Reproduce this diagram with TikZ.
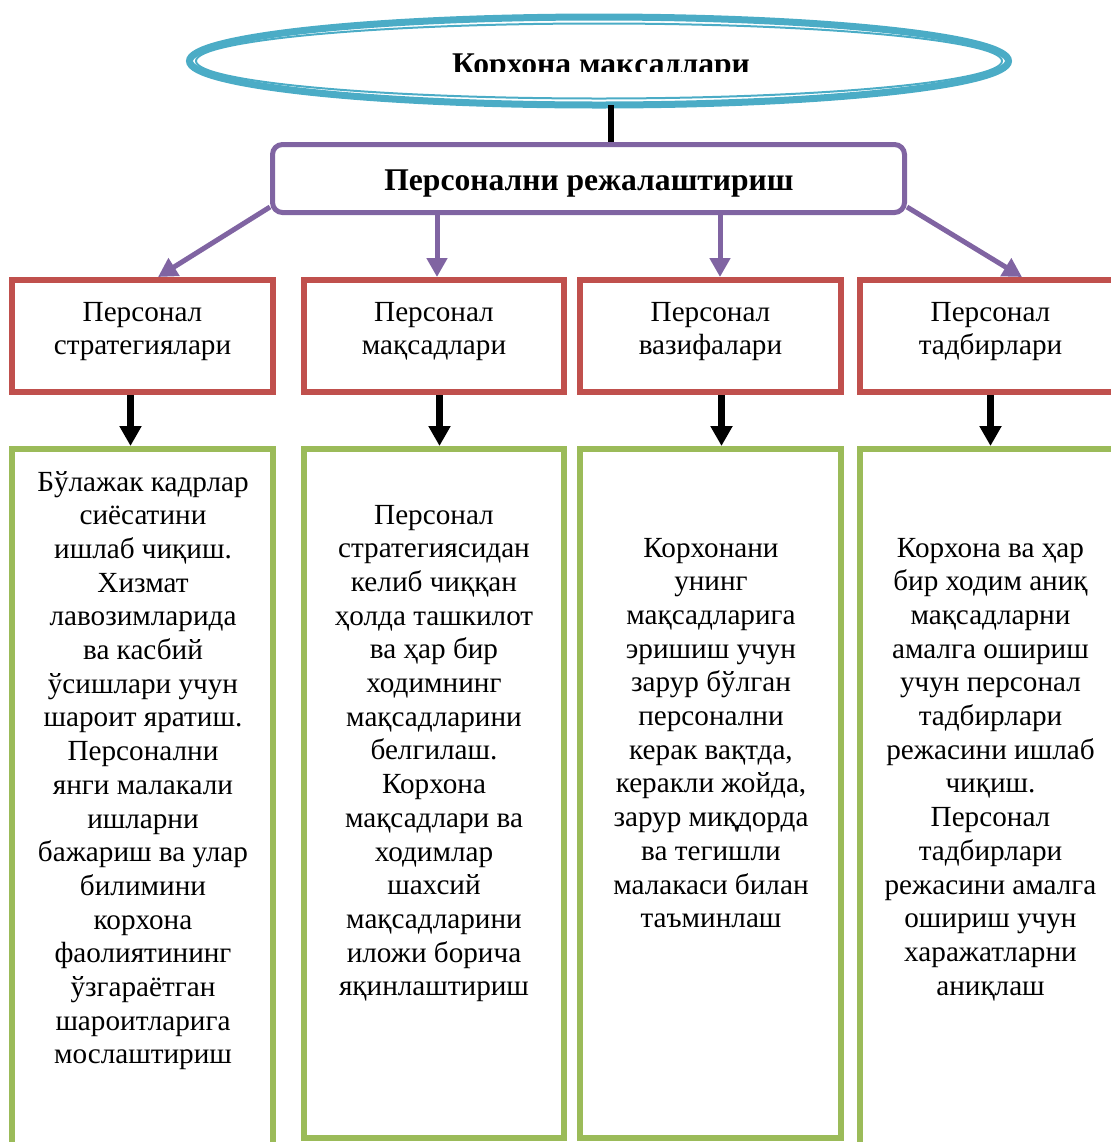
\documentclass[tikz,border=0pt]{standalone}
\usepackage{fontspec}
\setmainfont{Liberation Serif}
\usetikzlibrary{arrows.meta,shapes.geometric,calc}

\definecolor{ovalblue}{HTML}{4BACC6}
\definecolor{planpurple}{HTML}{8064A2}
\definecolor{boxred}{HTML}{C0504D}
\definecolor{boxgreen}{HTML}{9BBB59}

% centred block of lines; the node's base is the first baseline
\newcommand{\blocktext}[2]{\parbox[t]{#1}{\centering\fontsize{14.6pt}{16.85pt}\selectfont #2}}
\newcommand{\titletext}[1]{\fontsize{15.8pt}{18pt}\selectfont\bfseries #1}

\tikzset{
  goaloval/.style={ellipse, inner sep=0pt, minimum width=413pt, minimum height=47.5pt},
  ringthick/.style={draw=ovalblue, line width=3.5pt},
  ringthin/.style={draw=ovalblue, line width=1pt},
  planbox/.style={rectangle, rounded corners=5pt, draw=planpurple, line width=2.5pt,
                  inner sep=0pt, minimum width=316pt, minimum height=34pt},
  redbox/.style={rectangle, draw=boxred, line width=3pt, inner sep=0pt,
                 minimum height=56pt},
  greenbox/.style={rectangle, draw=boxgreen, line width=3pt, inner sep=0pt},
  txt/.style={anchor=base, inner sep=0pt},
  purplearrow/.style={draw=planpurple, line width=2.5pt,
                      -{Triangle[width=10pt,length=9.5pt]}},
  blackarrow/.style={draw=black, line width=3.5pt,
                     -{Triangle[width=10.5pt,length=10pt]}},
  blackline/.style={draw=black, line width=3pt}
}

\begin{document}
\begin{tikzpicture}[x=0.5pt, y=-0.5pt]
  \useasboundingbox (0,0) rectangle (1111,1142);
  \clip (0,0) rectangle (1111,1142);

  % top oval: thick outer ring with a thin inner ring
  \node[goaloval] (goal) at (599,61) {};
  \draw[ringthick] (goal.center) ellipse [x radius=204.75pt, y radius=22pt];
  \draw[ringthin]  (goal.center) ellipse [x radius=201.5pt, y radius=18.75pt];
  \begin{scope}
    \clip (0,0) rectangle (1111,71);
    \node[txt] (goaltext) at (601,74) {\titletext{Корхона мақсадлари}};
  \end{scope}

  % planning box
  \node[planbox] (plan) at (588.5,178.5) {};
  \node[txt] (plantext) at (589,190) {\titletext{Персонални режалаштириш}};

  % red headings
  \node[redbox, minimum width=130.5pt] (r1) at (142.5,336) {};
  \node[redbox, minimum width=130pt]   (r2) at (434,336) {};
  \node[redbox, minimum width=130.5pt] (r3) at (710.5,336) {};
  \node[redbox, minimum width=130.5pt] (r4) at (990.5,336) {};
  \node[txt] (r1t) at (142.5,321) {\blocktext{130pt}{Персонал\\стратегиялари}};
  \node[txt] (r2t) at (434,321)   {\blocktext{130pt}{Персонал\\мақсадлари}};
  \node[txt] (r3t) at (710.5,321) {\blocktext{130pt}{Персонал\\вазифалари}};
  \node[txt] (r4t) at (990.5,321) {\blocktext{130pt}{Персонал\\тадбирлари}};

  % green description boxes
  \node[greenbox, minimum width=130.5pt, minimum height=355.5pt] (g1) at (142.5,804.5) {};
  \node[greenbox, minimum width=130pt,   minimum height=344.5pt] (g2) at (434,793.5) {};
  \node[greenbox, minimum width=130.5pt, minimum height=344.5pt] (g3) at (710.5,793.5) {};
  \node[greenbox, minimum width=130.5pt, minimum height=355.5pt] (g4) at (990.5,804.5) {};

  \node[txt] (g1t) at (143,491) {\blocktext{130pt}{Бўлажак кадрлар\\сиёсатини\\ишлаб чиқиш.\\Хизмат\\лавозимларида\\ва касбий\\ўсишлари учун\\шароит яратиш.\\Персонални\\янги малакали\\ишларни\\бажариш ва улар\\билимини\\корхона\\фаолиятининг\\ўзгараётган\\шароитларига\\мослаштириш}};
  \node[txt] (g2t) at (434,524) {\blocktext{130pt}{Персонал\\стратегиясидан\\келиб чиққан\\ҳолда ташкилот\\ва ҳар бир\\ходимнинг\\мақсадларини\\белгилаш.\\Корхона\\мақсадлари ва\\ходимлар\\шахсий\\мақсадларини\\иложи борича\\яқинлаштириш}};
  \node[txt] (g3t) at (711,557) {\blocktext{130pt}{Корхонани\\унинг\\мақсадларига\\эришиш учун\\зарур бўлган\\персонални\\керак вақтда,\\керакли жойда,\\зарур миқдорда\\ва тегишли\\малакаси билан\\таъминлаш}};
  \node[txt] (g4t) at (990.5,557) {\blocktext{130pt}{Корхона ва ҳар\\бир ходим аниқ\\мақсадларни\\амалга ошириш\\учун персонал\\тадбирлари\\режасини ишлаб\\чиқиш.\\Персонал\\тадбирлари\\режасини амалга\\ошириш учун\\харажатларни\\аниқлаш}};

  % oval to planning box
  \coordinate (stem) at ([xshift=6pt,yshift=-22pt]goal.center);
  \draw[blackline] (stem) -- (stem |- plan.north);

  % planning box to the headings
  \coordinate (p1) at ([xshift=7.75pt]r1.north);
  \coordinate (p2) at ([xshift=1.5pt]r2.north);
  \coordinate (p3) at ([xshift=4.75pt]r3.north);
  \coordinate (p4) at ([xshift=15.75pt]r4.north);
  \draw[purplearrow] ([yshift=4pt]plan.south west) -- (p1);
  \draw[purplearrow] (p2 |- plan.south) -- (p2);
  \draw[purplearrow] (p3 |- plan.south) -- (p3);
  \draw[purplearrow] ([yshift=4pt]plan.south east) -- (p4);

  % headings to descriptions
  \coordinate (a1) at ([xshift=-6pt]r1.south);
  \coordinate (a2) at ([xshift=2.75pt]r2.south);
  \coordinate (a3) at ([xshift=5.5pt]r3.south);
  \coordinate (a4) at (r4.south);
  \draw[blackarrow] (a1) -- (a1 |- g1.north);
  \draw[blackarrow] (a2) -- (a2 |- g2.north);
  \draw[blackarrow] (a3) -- (a3 |- g3.north);
  \draw[blackarrow] (a4) -- (a4 |- g4.north);
\end{tikzpicture}
\end{document}
